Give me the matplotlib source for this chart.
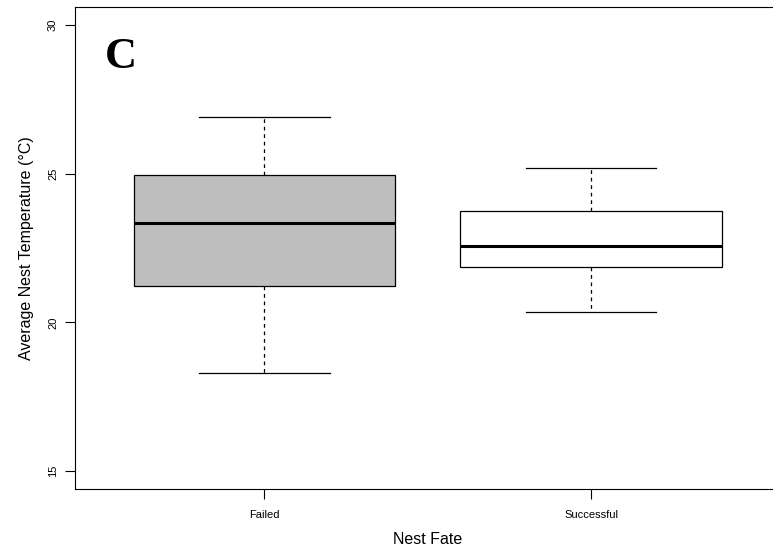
import matplotlib
matplotlib.use("Agg")
import matplotlib.pyplot as plt

categories = ["Failed", "Successful"]
whisker_low = [18.29, 20.34]
q1 = [21.22, 21.86]
median = [23.33, 22.58]
q3 = [24.94, 23.73]
whisker_high = [26.90, 25.20]
fill_colors = ["#BEBEBE", "#FFFFFF"]
y_ticks = [15, 20, 25, 30]

plt.rcParams['font.family'] = ['Liberation Sans', 'DejaVu Sans']

fig = plt.figure(figsize=(7.73, 5.53), dpi=100)
ax = fig.add_axes([74.7/773, 1-489/553, (780.6-74.7)/773, (489-7)/553])

stats = []
for i, c in enumerate(categories):
    stats.append(dict(label=c, med=median[i], q1=q1[i], q3=q3[i],
                      whislo=whisker_low[i], whishi=whisker_high[i], fliers=[]))

positions = list(range(1, len(categories) + 1))
bp = ax.bxp(stats, positions=positions, widths=0.8, patch_artist=True,
            showfliers=False,
            boxprops=dict(edgecolor='black', linewidth=0.9),
            medianprops=dict(color='black', linewidth=2.2),
            whiskerprops=dict(color='black', linewidth=0.9, linestyle=(0, (3, 3))),
            capprops=dict(color='black', linewidth=0.9),
            capwidths=0.4)
for patch, col in zip(bp['boxes'], fill_colors):
    patch.set_facecolor(col)

ax.set_xlim(0.42, 2.58)
ax.set_ylim(14.4, 30.6)
ax.set_yticks(y_ticks)
ax.set_yticklabels([str(t) for t in y_ticks], rotation=90, va='center', fontsize=8)
ax.set_xticks(positions)
ax.set_xticklabels(categories, fontsize=8)
ax.tick_params(axis='y', direction='out', length=7, width=0.8, pad=5)
ax.tick_params(axis='x', direction='out', length=7, width=0.8, pad=8)

for s in ['left', 'bottom', 'top']:
    ax.spines[s].set_linewidth(0.8)
    ax.spines[s].set_color('black')
ax.spines['right'].set_visible(False)

ax.set_xlabel("Nest Fate", fontsize=11.5, labelpad=9)
ax.set_ylabel("Average Nest Temperature (°C)", fontsize=11.5, labelpad=10)

ax.text(0.56, 28.55, "C", fontsize=32, fontweight='bold', family='Liberation Serif',
        ha='center', va='baseline')

fig.savefig("out.png", dpi=100)
